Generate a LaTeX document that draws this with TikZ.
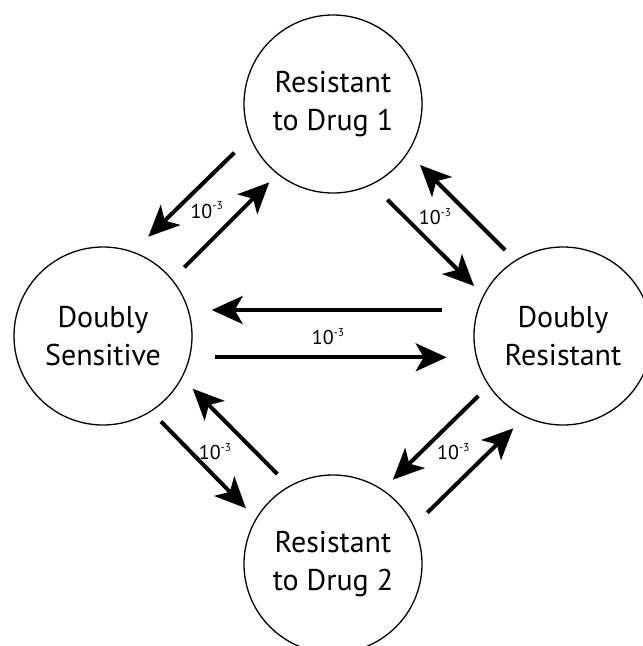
\documentclass[tikz,border=0pt]{standalone}
\usepackage{fontspec}
\setmainfont{PT Sans}
\usetikzlibrary{arrows.meta}
\newcommand\ratelabel{10\raisebox{0.42em}{\fontsize{11.5}{11.5}\selectfont -3}}
\begin{document}
\begin{tikzpicture}[x=1pt,y=-1pt,
  state/.style={circle,draw,line width=1.3pt,minimum size=178pt,inner sep=0pt,align=center,font=\fontsize{30}{38}\selectfont},
  flow/.style={line width=4pt,-{Stealth[length=31pt,width=28pt,inset=8pt]}},
  rate/.style={inner sep=0pt,font=\fontsize{20}{20}\selectfont}]
\useasboundingbox (0,0) rectangle (643,646);
\clip (0,0) rectangle (643,646);
% states
\node[state] (T) at (333,104) {Resistant\\to Drug 1};
\node[state] (L) at (103,336) {Doubly\\Sensitive};
\node[state] (R) at (563,336) {Doubly\\Resistant};
\node[state] (B) at (333,564) {Resistant\\to Drug 2};
% arrow end points
\coordinate (tl1s) at (234.3,152.7); \coordinate (tl1e) at (148.3,236.7);
\coordinate (tl2s) at (184.3,267.3); \coordinate (tl2e) at (269.3,182.3);
\coordinate (tr1s) at (387.5,199.7); \coordinate (tr1e) at (474,286);
\coordinate (tr2s) at (505,250);     \coordinate (tr2e) at (420,165);
\coordinate (h1s) at (441.7,310);    \coordinate (h1e) at (211.7,310);
\coordinate (h2s) at (215,357.3);    \coordinate (h2e) at (446.7,357.3);
\coordinate (bl1s) at (161,421.5);   \coordinate (bl1e) at (246,508.3);
\coordinate (bl2s) at (277.3,474);   \coordinate (bl2e) at (192.7,388.7);
\coordinate (br1s) at (478.3,396);   \coordinate (br1e) at (392.8,479.7);
\coordinate (br2s) at (427.3,512.7); \coordinate (br2e) at (513.3,428.3);
% arrows
\draw[flow] (tl1s) -- (tl1e);
\draw[flow] (tl2s) -- (tl2e);
\draw[flow] (tr1s) -- (tr1e);
\draw[flow] (tr2s) -- (tr2e);
\draw[flow] (h1s) -- (h1e);
\draw[flow] (h2s) -- (h2e);
\draw[flow] (bl1s) -- (bl1e);
\draw[flow] (bl2s) -- (bl2e);
\draw[flow] (br1s) -- (br1e);
\draw[flow] (br2s) -- (br2e);
% rate labels
\node[rate] (r1) at (206.7,210) {\ratelabel};
\node[rate] (r2) at (435,216.7) {\ratelabel};
\node[rate] (r3) at (328,336.7) {\ratelabel};
\node[rate] (r4) at (215,451.7) {\ratelabel};
\node[rate] (r5) at (453.3,451.7) {\ratelabel};
\end{tikzpicture}
\end{document}
